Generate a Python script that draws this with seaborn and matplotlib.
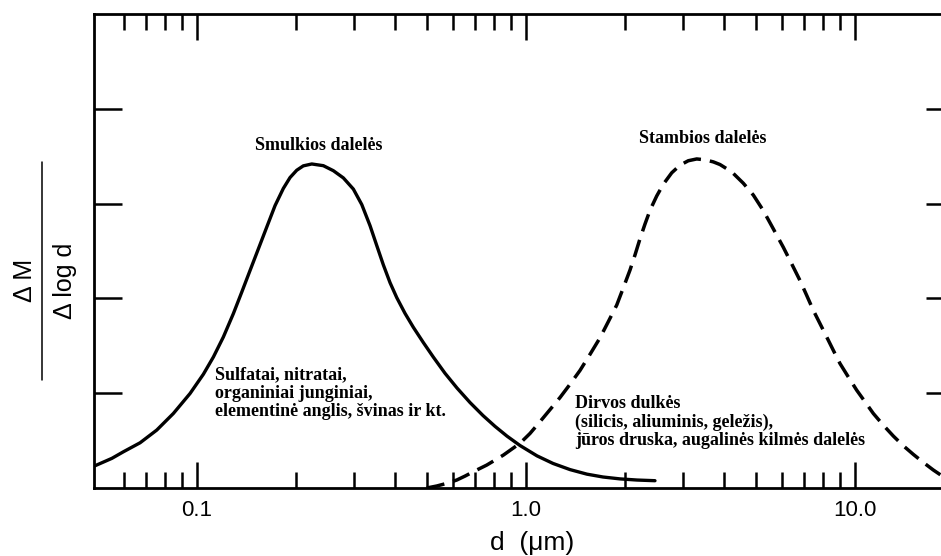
import matplotlib
matplotlib.use("Agg")
import matplotlib.pyplot as plt
from matplotlib.lines import Line2D
from matplotlib.ticker import FixedLocator, FixedFormatter, NullFormatter
import pandas as pd
import seaborn as sns

# Fine-mode mass distribution (d in µm, ΔM/Δlog d in arbitrary units)
fine_d = [0.0486, 0.0551, 0.0597, 0.0671, 0.0754, 0.0847, 0.0952, 0.1045,
          0.1121, 0.1202, 0.1289, 0.1367, 0.1449, 0.1536, 0.1628, 0.1726,
          0.1829, 0.1917, 0.2009, 0.2103, 0.2232, 0.2420, 0.2596, 0.2784,
          0.2986, 0.3167, 0.3356, 0.3517, 0.3684, 0.3860, 0.4046, 0.4287,
          0.4544, 0.4874, 0.5226, 0.5672, 0.6171, 0.6759, 0.7401, 0.8050,
          0.8754, 0.9589, 1.080, 1.208, 1.361, 1.532, 1.714, 1.931, 2.175,
          2.466]
fine_m = [0.230, 0.313, 0.382, 0.477, 0.611, 0.786, 0.997, 1.200,
          1.382, 1.593, 1.839, 2.066, 2.295, 2.523, 2.751, 2.979,
          3.160, 3.275, 3.352, 3.398, 3.418, 3.400, 3.347, 3.271,
          3.153, 2.990, 2.767, 2.558, 2.353, 2.166, 2.008, 1.842,
          1.695, 1.534, 1.381, 1.210, 1.054, 0.901, 0.764, 0.650,
          0.547, 0.448, 0.339, 0.259, 0.194, 0.146, 0.116, 0.096, 0.084,
          0.077]

# Coarse-mode mass distribution
coarse_d = [0.4991, 0.5353, 0.5741, 0.6157, 0.6527, 0.6917, 0.7597, 0.8532,
            0.9589, 1.028, 1.103, 1.183, 1.269, 1.361, 1.459, 1.565, 1.679,
            1.779, 1.887, 1.975, 2.071, 2.145, 2.221, 2.300, 2.382, 2.496,
            2.615, 2.773, 2.938, 3.113, 3.303, 3.500, 3.710, 3.888, 4.219,
            4.576, 4.909, 5.265, 5.645, 6.054, 6.420, 6.805, 7.132, 7.470,
            7.828, 8.204, 8.591, 9.004, 9.542, 10.12, 10.73, 11.37, 12.19,
            13.08, 14.03, 15.04, 16.13, 17.30, 18.26]
coarse_m = [0.000, 0.021, 0.049, 0.084, 0.126, 0.172, 0.242, 0.347,
            0.472, 0.575, 0.700, 0.827, 0.955, 1.095, 1.240, 1.410, 1.585,
            1.755, 1.930, 2.110, 2.300, 2.460, 2.630, 2.785, 2.930, 3.080,
            3.205, 3.325, 3.405, 3.452, 3.471, 3.462, 3.440, 3.412, 3.335,
            3.215, 3.090, 2.926, 2.734, 2.540, 2.365, 2.189, 2.032, 1.874,
            1.734, 1.593, 1.453, 1.313, 1.172, 1.032, 0.909, 0.786, 0.663,
            0.548, 0.445, 0.355, 0.270, 0.190, 0.135]

x_major = [0.1, 1.0, 10.0]
x_major_labels = ["0.1", "1.0", "10.0"]
x_minor = [0.06, 0.07, 0.08, 0.09,
           0.2, 0.3, 0.4, 0.5, 0.6, 0.7, 0.8, 0.9,
           2, 3, 4, 5, 6, 7, 8, 9]
y_ticks = [1, 2, 3, 4]

mode_titles = ["Smulkios dalelės", "Stambios dalelės"]
fine_note = "Sulfatai, nitratai,\norganiniai junginiai,\nelementinė anglis, švinas ir kt."
coarse_note = "Dirvos dulkės\n(silicis, aliuminis, geležis),\njūros druska, augalinės kilmės dalelės"

sns.set_theme(style="white")
plt.rcParams["font.family"] = ["Liberation Sans", "DejaVu Sans"]

fine_df = pd.DataFrame({"d": fine_d, "m": fine_m})
coarse_df = pd.DataFrame({"d": coarse_d, "m": coarse_m})

fig = plt.figure(figsize=(9.41, 5.56), dpi=100)
ax = fig.add_axes([94 / 941, 1 - 488 / 556, (954 - 94) / 941, (488 - 14) / 556])

sns.lineplot(data=fine_df, x="d", y="m", ax=ax, color="black", lw=2.4,
             estimator=None, sort=False, solid_joinstyle="round",
             solid_capstyle="round")
sns.lineplot(data=coarse_df, x="d", y="m", ax=ax, color="black", lw=2.5,
             estimator=None, sort=False, dashes=False, linestyle=(0, (5.2, 2.6)),
             dash_joinstyle="round")

ax.set_xscale("log")
ax.set_xlim(0.0486, 20)
ax.set_ylim(0, 5)

ax.xaxis.set_major_locator(FixedLocator(x_major))
ax.xaxis.set_major_formatter(FixedFormatter(x_major_labels))
ax.xaxis.set_minor_locator(FixedLocator(x_minor))
ax.xaxis.set_minor_formatter(NullFormatter())
ax.set_yticks(y_ticks)
ax.set_yticklabels([])

ax.tick_params(axis="x", which="major", direction="in", top=True, bottom=True,
               length=18.5, width=1.8, color="black", labelsize=16, pad=9,
               labelcolor="black")
ax.tick_params(axis="x", which="minor", direction="in", top=True, bottom=True,
               length=11.5, width=1.8, color="black")
ax.tick_params(axis="y", which="major", direction="in", left=True, right=True,
               length=20, width=1.8, color="black")

for sp in ax.spines.values():
    sp.set_visible(True)
    sp.set_color("black")
    sp.set_linewidth(2.0)

ax.set_ylabel("")
ax.set_xlabel("d  (μm)", fontsize=19, color="black")
ax.xaxis.label.set_va("center")
ax.xaxis.set_label_coords(0.51, -0.116)

serif = ["Liberation Serif", "DejaVu Serif"]
ax.text(0.235, 3.61, mode_titles[0], ha="center", va="center", fontsize=13,
        fontweight="bold", family=serif, color="black")
ax.text(3.45, 3.69, mode_titles[1], ha="center", va="center", fontsize=13,
        fontweight="bold", family=serif, color="black")
ax.text(0.1135, 1.0, fine_note, ha="left", va="center", fontsize=13,
        fontweight="bold", family=serif, linespacing=1.1, color="black")
ax.text(1.41, 0.695, coarse_note, ha="left", va="center", fontsize=13,
        fontweight="bold", family=serif, linespacing=1.1, color="black")

# Fractional y-axis label: ΔM over Δ log d
fig.text(25 / 941, 1 - 280 / 556, "Δ M", rotation=90, ha="center", va="center",
         fontsize=18, color="black")
fig.text(65 / 941, 1 - 281 / 556, "Δ log d", rotation=90, ha="center", va="center",
         fontsize=18, color="black")
fig.add_artist(Line2D([42 / 941, 42 / 941], [1 - 162 / 556, 1 - 380 / 556],
                      transform=fig.transFigure, color="black", lw=1.1))

fig.savefig("out.png", dpi=100, facecolor="white")
